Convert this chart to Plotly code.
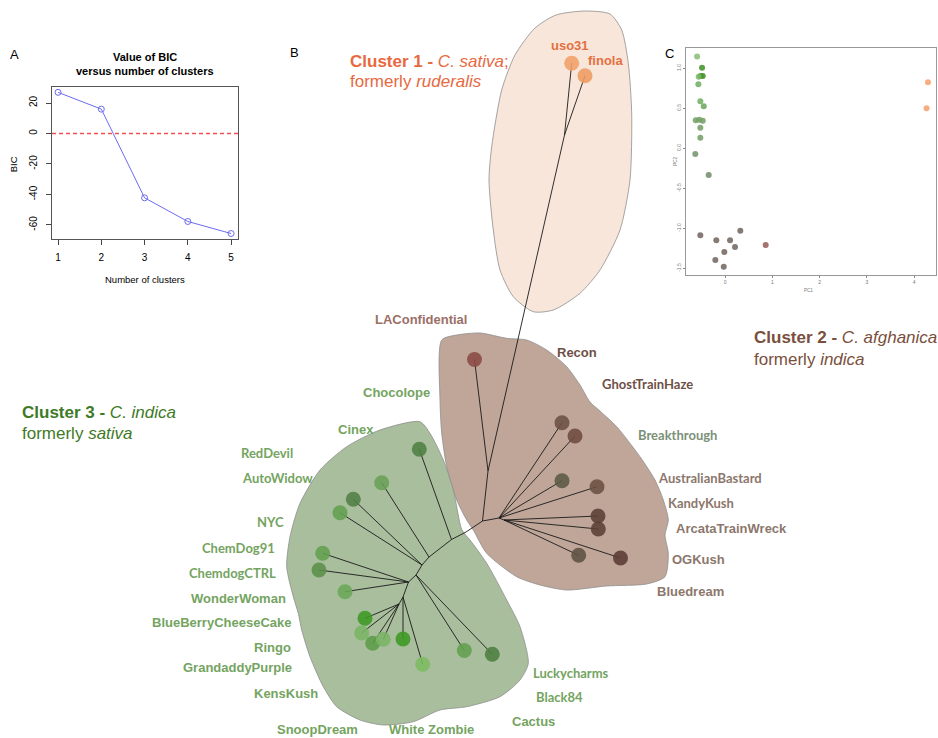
import plotly.graph_objects as go

W, H = 938, 738

# ---------------- Panel A data ----------------
n_clusters = [1, 2, 3, 4, 5]
bic_values = [27.0, 16.0, -42.2, -57.7, -65.6]
bic_ticks = [-60, -40, -20, 0, 20]
bic_ticktext = ["-60", "-40", "-20", "0", "20"]
bic_reference = 0
x_range_a = [0.86, 5.16]

# ---------------- Panel C data (PCA) ----------------
pc1_cluster3 = [-0.59, -0.486, -0.514, -0.471, -0.556, -0.564, -0.522, -0.450,
                -0.619, -0.543, -0.471, -0.522, -0.522, -0.628, -0.345]
pc2_cluster3 = [1.145, 1.0075, 0.904, 0.904, 0.895, 0.80, 0.5875, 0.525,
                0.35, 0.3575, 0.345, 0.2575, 0.1325, -0.071, -0.334]
pc1_cluster2 = [-0.522, -0.184, 0.106, 0.323, 0.211, -0.015, -0.205, -0.027, 0.860]
pc2_cluster2 = [-1.0875, -1.15, -1.15, -1.03, -1.234, -1.296, -1.396, -1.48, -1.209]
pc1_cluster1 = [4.29, 4.26]
pc2_cluster1 = [0.825, 0.5]
pc1_ticks = [0, 1, 2, 3, 4]
pc2_ticks = [-1.5, -1.0, -0.5, 0.0, 0.5, 1.0]
pc2_ticktext = ["-1.5", "-1.0", "-0.5", "0.0", "0.5", "1.0"]

# ---------------- Panel B data (tree layout, page units) ----------------
node_id = ["R", "T", "C1", "uso31", "finola", "LAConfidential",
           "BH", "BH2", "b1", "b2", "b3", "b4", "b5", "b6", "b7", "b8",
           "Ga", "G1", "g1", "G2", "g2", "G3", "g3", "g4", "G4", "g5", "g6",
           "G5", "g7", "g8", "g9", "G6", "g10", "g11", "G7", "g12", "g13", "g14", "g15"]
node_x = [482.5, 488, 564.5, 571.7, 585, 474.5,
          499, 504, 562, 575, 562, 597, 598, 598.3, 578.7, 620.5,
          466, 451.5, 419.3, 429, 381.7, 422, 353.3, 340, 416, 464.3, 492.3,
          408.5, 322.7, 319, 345, 403, 403, 422.7, 399, 365, 361.7, 372.7, 383.3]
node_y = [521, 471, 135, 63.3, 75.7, 359.5,
          518, 520, 422.7, 436, 480.7, 486.7, 516, 529, 555.3, 558,
          532, 539.5, 449.3, 557, 482.7, 565, 499.3, 512.7, 575, 650.5, 654.3,
          582, 553.3, 570, 591.7, 597, 639, 664.3, 604, 618.3, 633, 643.3, 639.3]
node_parent = [None, "R", "T", "C1", "C1", "T",
               "R", "BH", "BH", "BH", "BH", "BH", "BH2", "BH2", "BH2", "BH2",
               "R", "Ga", "G1", "G1", "G2", "G2", "G3", "G3", "G3", "G4", "G4",
               "G4", "G5", "G5", "G5", "G5", "G6", "G6", "G6", "G7", "G7", "G7", "G7"]

hull1_x = [621.7, 628.3, 631.7, 630, 620, 600, 580, 553.3, 533.3, 513.3, 500, 493.3,
           489, 491.7, 501.7, 515, 535, 556, 585, 610]
hull1_y = [30, 63.3, 113.3, 180, 230, 270, 293.3, 310, 311.7, 296.7, 270, 230,
           180, 146.7, 90, 55, 28, 15, 11, 14]
hull2_x = [441.7, 456.7, 480, 506.7, 526.7, 546.7, 566.7, 580, 590, 600, 616.7, 640,
           655, 663.3, 668.3, 665, 668.3, 665, 646.7, 606.7, 566.7, 540, 516.7,
           486.7, 473.3, 466.7, 456.7, 446.7, 441.7, 440]
hull2_y = [340, 335, 333, 338.3, 340, 350, 366.7, 385, 402, 411, 426.7, 456.7,
           480, 500, 520, 535, 553.3, 576.7, 584, 586, 590, 585, 576.7,
           553.3, 530, 520, 500, 466.7, 433, 400]
hull3_x = [420, 380, 346.7, 320, 300, 290, 286.7, 293.3, 298.3, 301.7, 310, 323.3,
           336.7, 360, 383.3, 413.3, 440, 466.7, 500, 520, 528.3, 520, 506.7,
           486.7, 470, 462, 453.3, 443.3, 430]
hull3_y = [421.7, 430, 446.7, 470, 503.3, 536.7, 566.7, 596.7, 613.3, 630, 656.7, 686.7,
           706.7, 720, 725, 721.7, 710, 706.7, 696.7, 680, 663.3, 626.7, 600,
           563.3, 540, 530, 490, 460, 433.3]

label_text = ["uso31", "finola", "LAConfidential", "Recon", "GhostTrainHaze", "Breakthrough",
              "AustralianBastard", "KandyKush", "ArcataTrainWreck", "OGKush", "Bluedream",
              "Chocolope", "Cinex", "RedDevil", "AutoWidow", "NYC", "ChemDog91", "ChemdogCTRL",
              "WonderWoman", "BlueBerryCheeseCake", "Ringo", "GrandaddyPurple", "KensKush",
              "SnoopDream", "White Zombie", "Cactus", "Black84", "Luckycharms"]
label_x = [570.3, 605.8, 420.5, 576.7, 647.5, 677.8,
           709.7, 700.7, 731.3, 698.3, 690.8,
           396.7, 356.2, 267, 277, 270, 238.3, 232.2,
           238.3, 221, 272.3, 237.5, 285.8,
           317, 431.7, 533.3, 559.7, 571.3]
label_y = [45, 60.7, 319, 352.3, 384, 435,
           477.7, 503.3, 528.3, 559.3, 591,
           392.3, 429.3, 452.7, 477.7, 521.7, 547.7, 573.3,
           598.3, 622.7, 647.3, 667.3, 693.3,
           729.5, 729.5, 721.7, 696.7, 673.3]

# ---------------- styles ----------------
HELV = "Liberation Sans, Arial, sans-serif"
CALI = "Lato, Open Sans, sans-serif"
calibri_like = {"GhostTrainHaze", "Breakthrough", "AustralianBastard", "KandyKush",
                "RedDevil", "AutoWidow", "NYC", "ChemDog91", "ChemdogCTRL",
                "Black84", "Luckycharms"}
label_color = {"uso31": "#e4703f", "finola": "#e4703f", "LAConfidential": "#9b6f66",
               "Recon": "#6e5047", "GhostTrainHaze": "#6e5047", "Breakthrough": "#7b9177",
               "AustralianBastard": "#8c776c", "KandyKush": "#8c776c",
               "ArcataTrainWreck": "#8c776c", "OGKush": "#8c776c", "Bluedream": "#8c776c"}
green_label = "#74a45f"

dot_color = {"uso31": "#f0a066", "finola": "#ee9c62", "LAConfidential": "#8a4a44",
             "b1": "#6c5042", "b2": "#6e4b3e", "b3": "#5b5a44", "b4": "#6c5142",
             "b5": "#5b4036", "b6": "#5b4036", "b7": "#5f5242", "b8": "#5a3b33",
             "g1": "#4f7f42", "g2": "#69a055", "g3": "#527f45", "g4": "#62a050",
             "g5": "#62a04f", "g6": "#4d8040", "g7": "#62a050", "g8": "#5a9048",
             "g9": "#6aa858", "g10": "#3c9a22", "g11": "#7cbc62", "g12": "#3c9a22",
             "g13": "#79b565", "g14": "#5c9c48", "g15": "#79b565"}

fig = go.Figure()

# ---- Panel A ----
fig.add_trace(go.Scatter(x=x_range_a, y=[bic_reference, bic_reference], mode="lines",
                         line=dict(color="rgb(240,80,80)", width=1.5, dash="4px,3px"),
                         xaxis="x", yaxis="y", hoverinfo="skip", showlegend=False))
fig.add_trace(go.Scatter(x=n_clusters, y=bic_values, mode="lines+markers",
                         line=dict(color="#6b6bf2", width=1),
                         marker=dict(symbol="circle-open", size=6, color="#6b6bf2",
                                     line=dict(width=1)),
                         xaxis="x", yaxis="y", hoverinfo="skip", showlegend=False))

# ---- Panel C ----
c3_colors = ["#86bd74", "#3f8f26", "#3f8f26", "#3f8f26", "#7ab565", "#6fae5f", "#6fae5f",
             "#6aa55a", "#719f62", "#719f62", "#719f62", "#719f62", "#719f62", "#71936a", "#6f8b66"]
c2_colors = ["#786b66"] * 8 + ["#9c6262"]
fig.add_trace(go.Scatter(x=pc1_cluster3, y=pc2_cluster3, mode="markers",
                         marker=dict(size=6, color=c3_colors, opacity=0.85),
                         xaxis="x2", yaxis="y2", hoverinfo="skip", showlegend=False))
fig.add_trace(go.Scatter(x=pc1_cluster2, y=pc2_cluster2, mode="markers",
                         marker=dict(size=6, color=c2_colors, opacity=0.9),
                         xaxis="x2", yaxis="y2", hoverinfo="skip", showlegend=False))
fig.add_trace(go.Scatter(x=pc1_cluster1, y=pc2_cluster1, mode="markers",
                         marker=dict(size=6, color="#f5a572", opacity=0.9),
                         xaxis="x2", yaxis="y2", hoverinfo="skip", showlegend=False))

# ---- Panel B: hulls ----
def closed(a):
    return list(a) + [a[0]]

for hx, hy, fc in [(hull1_x, hull1_y, "#f8e6da"), (hull2_x, hull2_y, "#bfa698"),
                   (hull3_x, hull3_y, "#a9be9d")]:
    fig.add_trace(go.Scatter(x=closed(hx), y=closed(hy), mode="lines", fill="toself",
                             fillcolor=fc,
                             line=dict(color="#8e8e8e", width=0.8, shape="spline", smoothing=0.7),
                             xaxis="x3", yaxis="y3", hoverinfo="skip", showlegend=False))

# ---- Panel B: branches ----
pos = {n: (x, y) for n, x, y in zip(node_id, node_x, node_y)}
ex, ey = [], []
for n, p in zip(node_id, node_parent):
    if p is None:
        continue
    ex += [pos[p][0], pos[n][0], None]
    ey += [pos[p][1], pos[n][1], None]
fig.add_trace(go.Scatter(x=ex, y=ey, mode="lines", line=dict(color="#1a1a1a", width=0.9),
                         xaxis="x3", yaxis="y3", hoverinfo="skip", showlegend=False))

# ---- Panel B: tips ----
parents = set(p for p in node_parent if p)
tips = [n for n in node_id if n not in parents]
fig.add_trace(go.Scatter(x=[pos[n][0] for n in tips], y=[pos[n][1] for n in tips],
                         mode="markers",
                         marker=dict(size=15, color=[dot_color[n] for n in tips], opacity=0.88,
                                     line=dict(width=0)),
                         xaxis="x3", yaxis="y3", hoverinfo="skip", showlegend=False))

annotations = []
for t, x, y in zip(label_text, label_x, label_y):
    fam = CALI if t in calibri_like else HELV
    col = label_color.get(t, green_label)
    annotations.append(dict(x=x, y=y, xref="x3", yref="y3", text="<b>%s</b>" % t,
                            showarrow=False, xanchor="center", yanchor="middle",
                            font=dict(family=fam, size=13, color=col)))

def header(x, y, text, color):
    annotations.append(dict(x=x, y=y, xref="x3", yref="y3", text=text, showarrow=False,
                            xanchor="left", yanchor="middle",
                            font=dict(family=HELV, size=17, color=color)))

header(348, 61.7, "<b>Cluster 1 - </b><i>C. sativa</i>;", "#e8693f")
header(348, 81.7, "formerly <i>ruderalis</i>", "#e8693f")
header(752, 337.5, "<b>Cluster 2 - </b><i>C. afghanica</i>", "#7a4f3c")
header(752, 359, "formerly <i>indica</i>", "#7a4f3c")
header(20, 412, "<b>Cluster 3 - </b><i>C. indica</i>", "#3f7a27")
header(20, 433, "formerly <i>sativa</i>", "#3f7a27")

# panel letters
for letter, x, y in [("A", 14, 54), ("B", 294, 52), ("C", 669, 53)]:
    annotations.append(dict(x=x, y=y, xref="x3", yref="y3", text=letter, showarrow=False,
                            xanchor="center", yanchor="middle",
                            font=dict(family=HELV, size=13, color="#000")))

# panel A titles
annotations.append(dict(x=145, y=56.7, xref="x3", yref="y3", text="<b>Value of BIC</b>",
                        showarrow=False, font=dict(family=HELV, size=11, color="#000")))
annotations.append(dict(x=145, y=70.7, xref="x3", yref="y3",
                        text="<b>versus number of clusters</b>",
                        showarrow=False, font=dict(family=HELV, size=11, color="#000")))
annotations.append(dict(x=145, y=279.3, xref="x3", yref="y3", text="Number of clusters",
                        showarrow=False, font=dict(family=HELV, size=9.5, color="#000")))
annotations.append(dict(x=13.3, y=164, xref="x3", yref="y3", text="BIC", textangle=-90,
                        showarrow=False, font=dict(family=HELV, size=9.5, color="#000")))
# panel C axis titles
annotations.append(dict(x=808, y=290.7, xref="x3", yref="y3", text="PC1",
                        showarrow=False, font=dict(family=HELV, size=4.5, color="#777")))
annotations.append(dict(x=676, y=161.7, xref="x3", yref="y3", text="PC2", textangle=-90,
                        showarrow=False, font=dict(family=HELV, size=4.5, color="#777")))

def px_dom_x(a, b):
    return [a / W, b / W]

def px_dom_y(top, bottom):
    return [1 - bottom / H, 1 - top / H]

fig.update_layout(
    width=W, height=H, margin=dict(l=0, r=0, t=0, b=0),
    paper_bgcolor="white", plot_bgcolor="rgba(0,0,0,0)", showlegend=False,
    xaxis=dict(domain=px_dom_x(52, 238), range=x_range_a, tickvals=n_clusters,
               ticks="outside", ticklen=5, tickcolor="#444", showline=True, mirror=True,
               linecolor="#555", linewidth=1, showgrid=False, zeroline=False,
               tickfont=dict(family=HELV, size=10, color="#000"), ticklabelstandoff=4,
               anchor="y", fixedrange=True),
    yaxis=dict(domain=px_dom_y(87, 239), range=[-69.2, 30.5], tickvals=bic_ticks,
               ticktext=bic_ticktext,
               ticks="outside", ticklen=5, tickcolor="#444", showline=True, mirror=True,
               linecolor="#555", linewidth=1, showgrid=False, zeroline=False,
               tickangle=-90, tickfont=dict(family=HELV, size=10, color="#000"),
               ticklabelstandoff=5, anchor="x", fixedrange=True),
    xaxis2=dict(domain=px_dom_x(686, 936), range=[-0.825, 4.46], tickvals=pc1_ticks,
                ticks="outside", ticklen=2, tickcolor="#888", showline=True, mirror=True,
                linecolor="#999", linewidth=1, showgrid=False, zeroline=False,
                tickfont=dict(family=HELV, size=5, color="#777"), anchor="y2",
                fixedrange=True),
    yaxis2=dict(domain=px_dom_y(48.3, 275), range=[-1.584, 1.249], tickvals=pc2_ticks,
                ticktext=pc2_ticktext, ticks="outside", ticklen=2, tickcolor="#888",
                showline=True, mirror=True, linecolor="#999", linewidth=1, showgrid=False,
                zeroline=False, tickangle=-90, tickfont=dict(family=HELV, size=5, color="#777"),
                anchor="x2", fixedrange=True),
    xaxis3=dict(domain=[0, 1], range=[0, W], visible=False, anchor="y3", fixedrange=True),
    yaxis3=dict(domain=[0, 1], range=[H, 0], visible=False, anchor="x3", fixedrange=True),
    annotations=annotations,
)

fig.write_html("out.html", config={"displayModeBar": False},
               post_script="document.body.style.margin='0';")
